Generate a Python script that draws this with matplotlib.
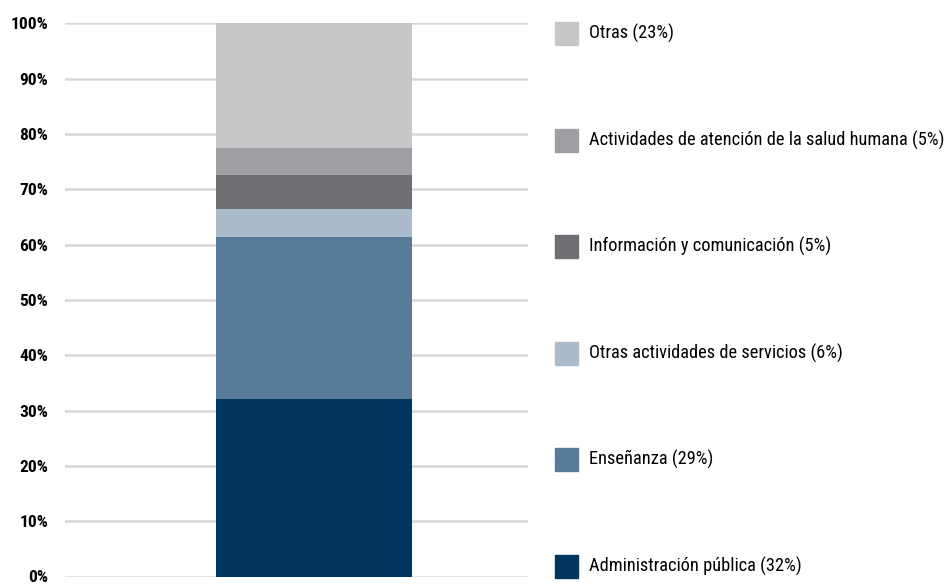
import matplotlib
matplotlib.use('Agg')
import matplotlib.pyplot as plt
from matplotlib import font_manager
from matplotlib.patches import Rectangle

# sector shares, bottom to top
sectors = ['Administración pública (32%)', 'Enseñanza (29%)',
           'Otras actividades de servicios (6%)', 'Información y comunicación (5%)',
           'Actividades de atención de la salud humana (5%)', 'Otras (23%)']
shares = [32.0, 29.3, 5.2, 6.0, 5.0, 22.5]
colors = ['#023761', '#577a99', '#aabccc', '#6e6f73', '#9e9fa3', '#c6c7c9']
yticks = [0, 10, 20, 30, 40, 50, 60, 70, 80, 90, 100]

# pick a narrow font if one is there
names = set(f.name for f in font_manager.fontManager.ttflist)
fam = 'Lato'
for n in ['Liberation Sans Narrow', 'Roboto Condensed', 'Open Sans Condensed', 'Lato']:
    if n in names:
        fam = n
        break
plt.rcParams['font.family'] = [fam, 'DejaVu Sans']

fig = plt.figure(figsize=(9.46, 5.85), dpi=100)
W, H = 946.0, 585.0
ax = fig.add_axes([65 / W, 1 - 576.5 / H, 463 / W, 553.2 / H])

bottom = 0
for s, c in zip(shares, colors):
    ax.bar(0, s, width=1, bottom=bottom, color=c, zorder=2)
    bottom += s

ax.set_xlim(-1.27, 1.09)
ax.set_ylim(0, 100)
ax.set_yticks(yticks)
ax.set_yticklabels([str(t) + '%' for t in yticks], fontweight='bold', fontsize=12.5)
ax.tick_params(axis='y', length=0, pad=12)
ax.set_xticks([])
ax.yaxis.grid(True, color='#d6d6d6', linewidth=1.8, zorder=0)
ax.set_axisbelow(True)
for sp in ax.spines.values():
    sp.set_visible(False)
# bottom label sits on the edge, nudge it up a little
ax.get_yticklabels()[0].set_verticalalignment('center_baseline')

# legend, top entry first
for i, (lab, c) in enumerate(zip(sectors[::-1], colors[::-1])):
    yc = 33.5 + 106.5 * i
    fig.add_artist(Rectangle((555 / W, 1 - (yc + 11.5) / H), 23 / W, 23 / H,
                             color=c, transform=fig.transFigure))
    fig.text(589 / W, 1 - yc / H, lab, fontsize=13.2, va='center', ha='left')

plt.savefig('out.png', dpi=100)
